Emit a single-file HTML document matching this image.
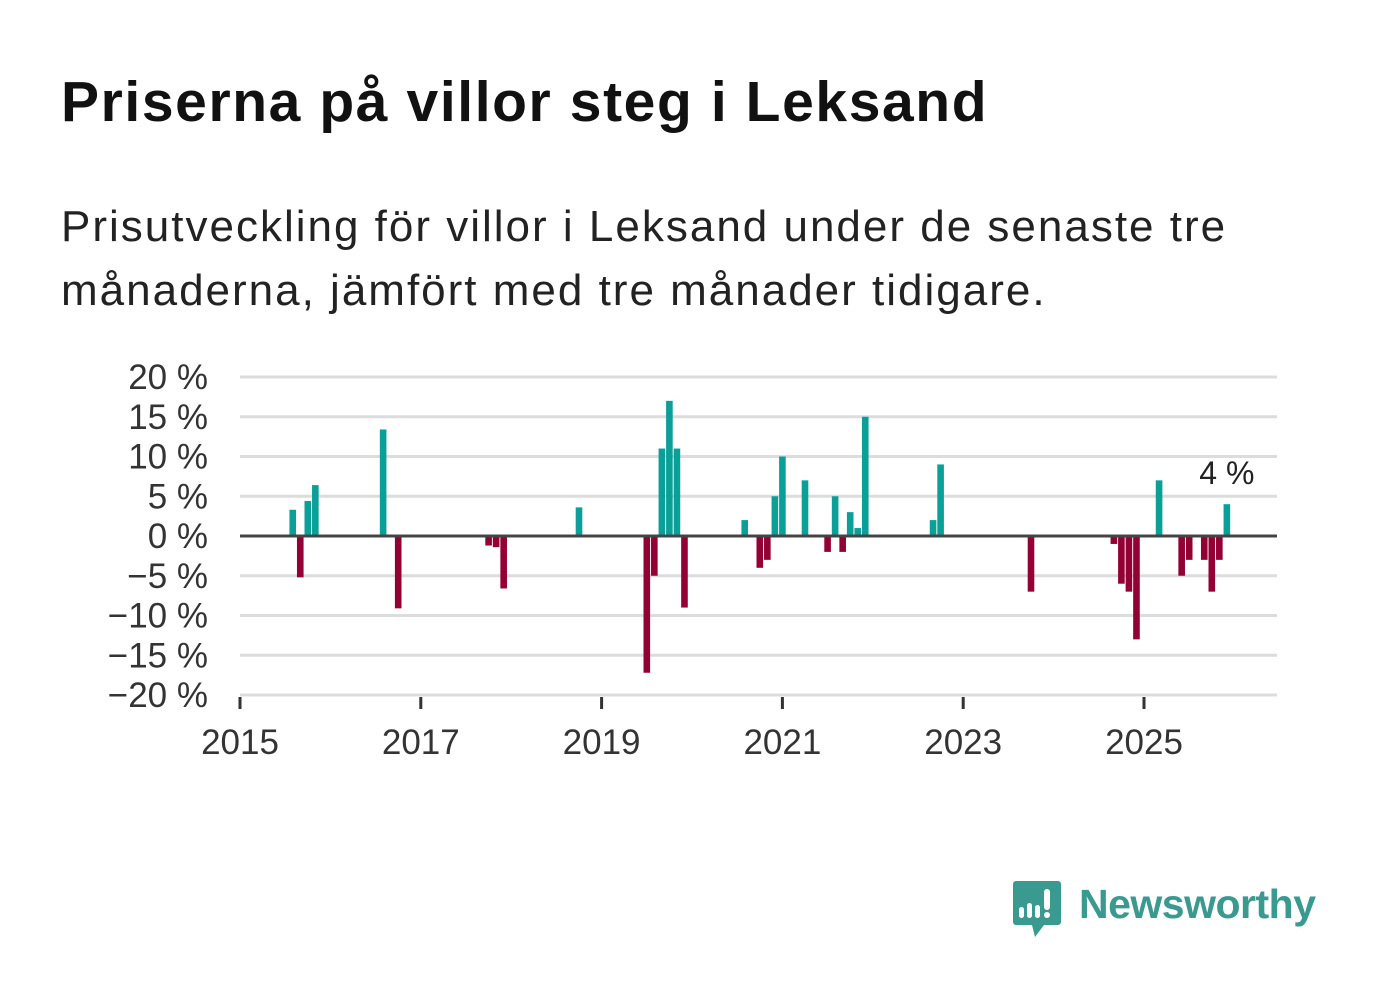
<!DOCTYPE html>
<html><head><meta charset="utf-8">
<style>
body{margin:0;width:1382px;height:999px;background:#fff;font-family:"Liberation Sans",sans-serif;overflow:hidden;position:relative}
#title{position:absolute;left:61px;top:69px;font-size:57px;letter-spacing:1.6px;font-weight:bold;color:#111;margin:0}
#sub{position:absolute;left:61px;top:195px;font-size:44px;letter-spacing:2px;line-height:64px;color:#222;width:1300px;margin:0}
svg{position:absolute;left:0;top:0}
</style></head><body>
<h1 id="title">Priserna på villor steg i Leksand</h1>
<p id="sub">Prisutveckling för villor i Leksand under de senaste tre<br>månaderna, jämfört med tre månader tidigare.</p>
<svg id="chart" width="1382" height="999"></svg>
<script>
// months since Jan 2015
const months=[7,8,9,10,19,21,33,34,35,45,54,55,56,57,58,59,67,69,70,71,72,75,78,79,80,81,82,83,92,93,105,116,117,118,119,122,125,126,128,129,130,131];
const values=[3.3,-5.2,4.4,6.4,13.4,-9.1,-1.2,-1.4,-6.6,3.6,-17.2,-5,11,17,11,-9,2,-4,-3,5,10,7,-2,5,-2,3,1,15,2,9,-7,-1,-6,-7,-13,7,-5,-3,-3,-7,-3,4];
const yTicks=[20,15,10,5,0,-5,-10,-15,-20];
const yTickLabels=["20 %","15 %","10 %","5 %","0 %","−5 %","−10 %","−15 %","−20 %"];
const xYears=[2015,2017,2019,2021,2023,2025];
const lastLabel="4 %";

const svg=document.getElementById('chart');
const NS='http://www.w3.org/2000/svg';
const x0=240,xR=1277,pxYear=90.4;
const xm=m=>x0+m*pxYear/12;
const y=v=>536-v*7.95;
function mk(t,a){const e=document.createElementNS(NS,t);for(const k in a)e.setAttribute(k,a[k]);svg.appendChild(e);return e;}
yTicks.forEach((v,i)=>{
  if(v!==0){const g=mk('line',{x1:x0,x2:xR,y1:y(v),y2:y(v),stroke:'#dcdcdc','stroke-width':3});
  
  }
  const t=mk('text',{x:208,y:y(v)+12,'text-anchor':'end','font-size':35,fill:'#333','font-family':'Liberation Sans, sans-serif'});
  t.textContent=yTickLabels[i];
  
  
});
xYears.forEach(yr=>{
  const X=x0+(yr-2015)*pxYear;
  const tk=mk('line',{x1:X,x2:X,y1:697,y2:709,stroke:'#333','stroke-width':3});
  
  
  const t=mk('text',{x:X,y:754,'text-anchor':'middle','font-size':35,fill:'#333','font-family':'Liberation Sans, sans-serif'});
  t.textContent=yr;
  
  
});
months.forEach((m,i)=>{
  const v=values[i];const cx=xm(m);
  const r=mk('rect',{x:cx-3.3,width:6.6,y:Math.min(y(v),y(0)),height:Math.abs(y(v)-y(0)),fill:v>=0?'#0a9f97':'#930034'});
  
  
});
const z=mk('line',{x1:x0,x2:xR,y1:y(0),y2:y(0),stroke:'#444','stroke-width':3});


const li=months.length-1;
const lt=mk('text',{x:xm(months[li]),y:y(values[li])-20,'text-anchor':'middle','font-size':32,fill:'#222',stroke:'#fff','stroke-width':6,'paint-order':'stroke','font-family':'Liberation Sans, sans-serif'});
lt.textContent=lastLabel;


// logo
const lg=document.createElementNS(NS,'g');svg.appendChild(lg);


lg.innerHTML='<path d="M1016 881h42a3 3 0 0 1 3 3v38a3 3 0 0 1-3 3h-14l-9 12-3-12h-16a3 3 0 0 1-3-3v-38a3 3 0 0 1 3-3z" fill="#3a9a8f"/>'+
'<rect x="1019" y="907" width="5" height="11" rx="2.5" fill="#fff"/><rect x="1027" y="903" width="5" height="15" rx="2.5" fill="#fff"/><rect x="1035" y="905" width="5" height="13" rx="2.5" fill="#fff"/><rect x="1044" y="889" width="6" height="21" rx="3" fill="#fff"/><circle cx="1047" cy="915" r="3" fill="#fff"/>'+
'<text x="1079" y="918" font-size="41" font-weight="bold" fill="#3a9a8f" font-family="Liberation Sans, sans-serif" textLength="237">Newsworthy</text>';
</script>
</body></html>
